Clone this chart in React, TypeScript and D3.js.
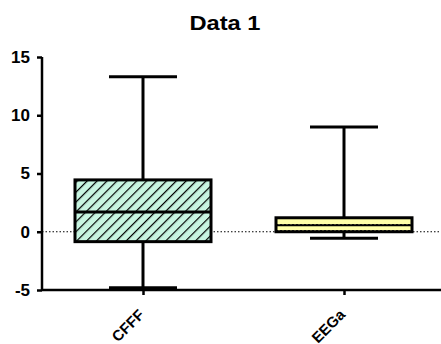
import React, { useRef, useEffect } from "react";
import * as d3 from "d3";

const groups = ["CFFF", "EEGa"];
const mins = [-4.8, -0.55];
const q1s = [-0.85, 0.0];
const medians = [1.7, 0.55];
const q3s = [4.45, 1.2];
const maxs = [13.3, 9.0];
const yTicks = [-5, 0, 5, 10, 15];

const App = () => {
  const wrapper = useRef<SVGSVGElement>(null);
  const width = 441;
  const height = 344;
  const margin = { top: 57, right: 0, bottom: 54, left: 42 };

  useEffect(() => {
    const svg = d3.select(wrapper.current);
    svg.selectAll("*").remove();

    const font = "Arial, 'Liberation Sans', sans-serif";

    const y = d3
      .scaleLinear()
      .domain([-5, 15])
      .range([height - margin.bottom, margin.top]);

    const x = d3.scalePoint().domain(groups).range([143, 344]);

    const boxW = 136;
    const capW = 68;

    // patterns
    const defs = svg.append("defs");
    const hatch = defs
      .append("pattern")
      .attr("id", "hatch")
      .attr("patternUnits", "userSpaceOnUse")
      .attr("width", 7)
      .attr("height", 7)
      .attr("patternTransform", "rotate(45)");
    hatch.append("rect").attr("width", 7).attr("height", 7).attr("fill", "#c8f5e1");
    hatch
      .append("line")
      .attr("x1", 0)
      .attr("y1", 0)
      .attr("x2", 0)
      .attr("y2", 7)
      .attr("stroke", "#000")
      .attr("stroke-width", 2.4);

    const dots = defs
      .append("pattern")
      .attr("id", "dots")
      .attr("patternUnits", "userSpaceOnUse")
      .attr("width", 4)
      .attr("height", 6)
      .attr("y", 2);
    dots.append("rect").attr("width", 4).attr("height", 6).attr("fill", "#ffffa8");
    dots.append("rect").attr("width", 2).attr("height", 1).attr("fill", "#333");

    // title
    svg
      .append("text")
      .attr("x", 225)
      .attr("y", 30)
      .attr("text-anchor", "middle")
      .style("font-family", font)
      .style("font-weight", "bold")
      .style("font-size", "20px")
      .attr("textLength", 71)
      .attr("lengthAdjust", "spacingAndGlyphs")
      .text("Data 1");

    // zero line
    svg
      .append("line")
      .attr("x1", margin.left)
      .attr("x2", width)
      .attr("y1", y(0))
      .attr("y2", y(0))
      .attr("stroke", "#000")
      .attr("stroke-width", 1)
      .attr("stroke-dasharray", "1.5,2");

    // y axis
    const yAxis = svg
      .append("g")
      .attr("transform", `translate(${margin.left},0)`)
      .call(
        d3
          .axisLeft(y)
          .tickValues(yTicks)
          .tickSize(5)
          .tickPadding(7)
          .tickFormat((d) => String(d))
      );
    yAxis.select(".domain").attr("stroke-width", 2.5).attr("d", `M-0,${y(15)}V${y(-5)}`);
    yAxis.selectAll(".tick line").attr("stroke-width", 2.5);
    yAxis
      .selectAll(".tick text")
      .style("font-family", font)
      .style("font-weight", "bold")
      .style("font-size", "17px")
      .attr("fill", "#000");

    // x axis
    const xAxis = svg
      .append("g")
      .attr("transform", `translate(0,${y(-5)})`)
      .call(d3.axisBottom(x).tickSize(5));
    xAxis.select(".domain").attr("stroke-width", 2.5).attr("d", `M${margin.left},0H${width}`);
    xAxis.selectAll(".tick line").attr("stroke-width", 2.5);
    xAxis
      .selectAll(".tick text")
      .style("font-family", font)
      .style("font-weight", "bold")
      .style("font-size", "15px")
      .attr("fill", "#000")
      .attr("text-anchor", "end")
      .attr("x", 0)
      .attr("y", 0)
      .attr("dy", "0.35em")
      .attr("transform", "translate(-2,22) rotate(-45)");

    const fills = ["url(#hatch)", "url(#dots)"];

    const g = svg.selectAll("g.box").data(groups).enter().append("g").attr("class", "box");

    // whiskers
    g.append("line")
      .attr("x1", (d) => x(d)!)
      .attr("x2", (d) => x(d)!)
      .attr("y1", (d, i) => y(maxs[i]))
      .attr("y2", (d, i) => y(mins[i]))
      .attr("stroke", "#000")
      .attr("stroke-width", 3);
    g.append("line")
      .attr("x1", (d) => x(d)! - capW / 2)
      .attr("x2", (d) => x(d)! + capW / 2)
      .attr("y1", (d, i) => y(maxs[i]))
      .attr("y2", (d, i) => y(maxs[i]))
      .attr("stroke", "#000")
      .attr("stroke-width", 3);
    g.append("line")
      .attr("x1", (d) => x(d)! - capW / 2)
      .attr("x2", (d) => x(d)! + capW / 2)
      .attr("y1", (d, i) => y(mins[i]))
      .attr("y2", (d, i) => y(mins[i]))
      .attr("stroke", "#000")
      .attr("stroke-width", 3);

    // boxes
    g.append("rect")
      .attr("x", (d) => x(d)! - boxW / 2)
      .attr("width", boxW)
      .attr("y", (d, i) => y(q3s[i]))
      .attr("height", (d, i) => y(q1s[i]) - y(q3s[i]))
      .attr("fill", (d, i) => fills[i])
      .attr("stroke", "#000")
      .attr("stroke-width", 3);

    // medians
    g.append("line")
      .attr("x1", (d) => x(d)! - boxW / 2)
      .attr("x2", (d) => x(d)! + boxW / 2)
      .attr("y1", (d, i) => y(medians[i]))
      .attr("y2", (d, i) => y(medians[i]))
      .attr("stroke", "#000")
      .attr("stroke-width", (d, i) => (i === 0 ? 3 : 2));
  }, []);

  return (
    <svg
      ref={wrapper}
      width={width}
      height={height}
      style={{ position: "absolute", left: 0, top: 0, background: "#fff" }}
    />
  );
};

export default App;
